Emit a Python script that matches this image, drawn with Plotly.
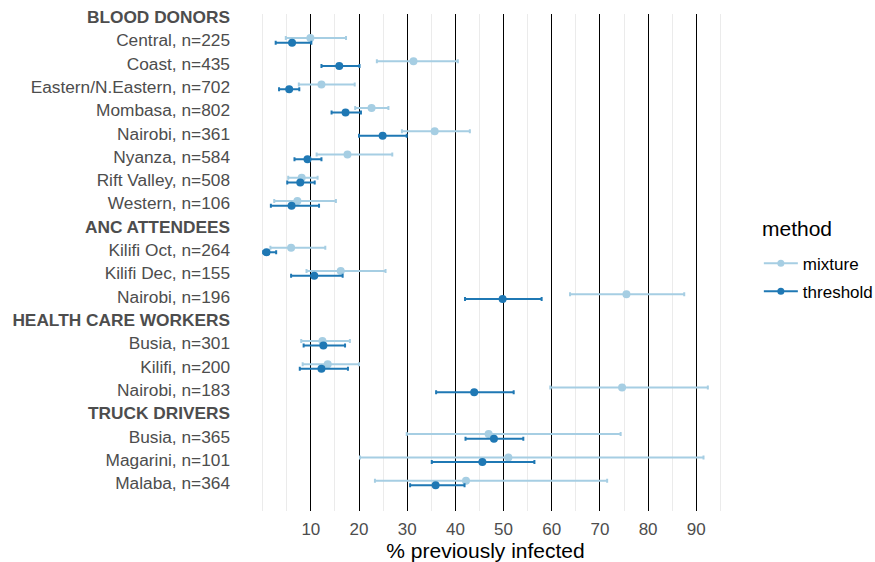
import plotly.graph_objects as go

labels = ["BLOOD DONORS", "Central, n=225", "Coast, n=435", "Eastern/N.Eastern, n=702",
          "Mombasa, n=802", "Nairobi, n=361", "Nyanza, n=584", "Rift Valley, n=508",
          "Western, n=106", "ANC ATTENDEES", "Kilifi Oct, n=264", "Kilifi Dec, n=155",
          "Nairobi, n=196", "HEALTH CARE WORKERS", "Busia, n=301", "Kilifi, n=200",
          "Nairobi, n=183", "TRUCK DRIVERS", "Busia, n=365", "Magarini, n=101", "Malaba, n=364"]
headers = ["BLOOD DONORS", "ANC ATTENDEES", "HEALTH CARE WORKERS", "TRUCK DRIVERS"]

# data rows (non-header), in order
rows = ["Central, n=225", "Coast, n=435", "Eastern/N.Eastern, n=702", "Mombasa, n=802",
        "Nairobi, n=361", "Nyanza, n=584", "Rift Valley, n=508", "Western, n=106",
        "Kilifi Oct, n=264", "Kilifi Dec, n=155", "Nairobi, n=196",
        "Busia, n=301", "Kilifi, n=200", "Nairobi, n=183",
        "Busia, n=365", "Magarini, n=101", "Malaba, n=364"]

mix_est = [9.9, 31.3, 12.2, 22.6, 35.7, 17.6, 8.1, 7.2, 5.9, 16.2, 75.5, 12.4, 13.5, 74.6, 46.9, 51.0, 42.2]
mix_lo  = [4.8, 23.7, 7.5, 19.2, 28.9, 11.2, 5.3, 2.4, 1.6, 9.1, 63.8, 8.0, 8.3, 59.7, 29.9, 20.2, 23.3]
mix_hi  = [17.3, 40.5, 19.1, 26.1, 43.0, 26.9, 11.4, 15.2, 13.0, 25.5, 87.5, 18.1, 20.0, 92.4, 74.3, 91.5, 71.5]

thr_est = [6.1, 15.9, 5.5, 17.2, 24.9, 9.3, 7.8, 6.0, 0.8, 10.7, 49.8, 12.6, 12.2, 43.9, 48.0, 45.6, 35.9]
thr_lo  = [2.7, 12.2, 3.4, 14.3, 20.0, 6.6, 5.1, 1.7, 0.1, 5.9, 42.0, 8.5, 7.7, 36.0, 42.1, 35.1, 30.6]
thr_hi  = [10.1, 20.1, 7.6, 20.4, 29.9, 12.2, 10.8, 11.7, 2.8, 16.6, 57.9, 17.1, 17.7, 52.1, 54.1, 56.4, 41.9]

x_ticks = [10, 20, 30, 40, 50, 60, 70, 80, 90]

MIX_COL = "#a6cee3"
THR_COL = "#1f78b4"
FONT = "Liberation Sans, Arial, Helvetica, sans-serif"

pos = {lab: i + 1 for i, lab in enumerate(labels)}
y_rows = [pos[r] for r in rows]
dodge = 0.1

fig = go.Figure()

def add_series(est, lo, hi, col, name, off):
    fig.add_trace(go.Scatter(
        x=est, y=[y + off for y in y_rows], mode="markers",
        marker=dict(color=col, size=8),
        error_x=dict(type="data", symmetric=False,
                     array=[h - e for h, e in zip(hi, est)],
                     arrayminus=[e - l for e, l in zip(est, lo)],
                     color=col, thickness=2, width=2),
        showlegend=False, hoverinfo="skip"))
    fig.add_trace(go.Scatter(
        x=[None], y=[None], mode="lines+markers", name=name,
        line=dict(color=col, width=2), marker=dict(color=col, size=7),
        legendgroup=name, showlegend=True))

add_series(mix_est, mix_lo, mix_hi, MIX_COL, "mixture", -dodge)
add_series(thr_est, thr_lo, thr_hi, THR_COL, "threshold", dodge)

ticktext = [f"<b>{l}</b>" if l in headers else l for l in labels]

fig.update_layout(
    width=875, height=562,
    margin=dict(l=241, r=145, t=14, b=51, autoexpand=False),
    plot_bgcolor="white", paper_bgcolor="white",
    font=dict(family=FONT, color="#4d4d4d"),
    xaxis=dict(
        range=[-4.5, 97], tickmode="array", tickvals=x_ticks,
        ticktext=[str(v) for v in x_ticks], automargin=False,
        showgrid=True, gridcolor="#000000", gridwidth=1,
        zeroline=False, showline=False, ticks="",
        tickfont=dict(size=17, color="#4d4d4d"), ticklabelstandoff=6,
        minor=dict(tickmode="linear", tick0=0, dtick=5, showgrid=True,
                   gridcolor="#ebebeb", gridwidth=1),
        title=dict(text="% previously infected", font=dict(size=21, color="#000000"),
                   standoff=6),
    ),
    yaxis=dict(
        range=[22.2, 0.87], tickmode="array", tickvals=list(range(1, len(labels) + 1)),
        ticktext=ticktext, showgrid=False, zeroline=False, showline=False, ticks="",
        automargin=False, ticklabeloverflow="allow",
        tickfont=dict(size=17.3, color="#4d4d4d"), ticklabelstandoff=10,
    ),
    legend=dict(
        font=dict(size=17, color="#000000"),
        x=1.059, y=0.534, xanchor="left", yanchor="top",
        tracegroupgap=3, itemwidth=34, bgcolor="rgba(0,0,0,0)",
    ),
    annotations=[dict(
        text="method", xref="paper", yref="paper", x=1.0614, y=0.5694,
        xanchor="left", yanchor="middle", showarrow=False,
        font=dict(size=21, color="#000000"))],
)

fig.write_html("out.html", config={"displayModeBar": False},
               post_script="document.body.style.margin='0';document.body.style.overflow='hidden';")
